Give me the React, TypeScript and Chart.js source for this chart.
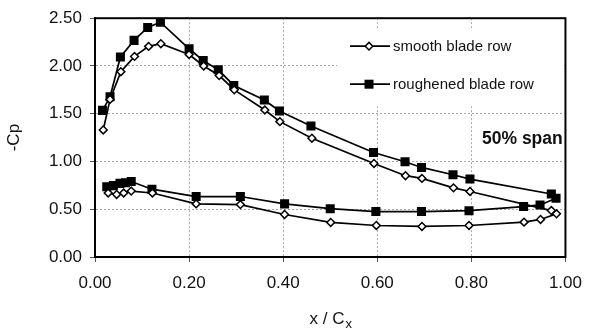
import React, { useEffect, useRef } from 'react';
import { Chart, registerables } from 'chart.js';

Chart.register(...registerables);

// ---- data ----
const xTicks = [0, 0.2, 0.4, 0.6, 0.8, 1.0];
const yTicks = [0, 0.5, 1.0, 1.5, 2.0, 2.5];

// smooth blade row: suction side LE -> TE, then pressure side TE -> LE
const smoothX = [0.0175, 0.032, 0.055, 0.084, 0.114, 0.14, 0.2, 0.231, 0.264, 0.296, 0.361, 0.393, 0.461, 0.593, 0.66, 0.695, 0.762, 0.797, 0.97, 0.981,
  0.947, 0.912, 0.795, 0.695, 0.598, 0.501, 0.403, 0.309, 0.215, 0.122, 0.077, 0.061, 0.046, 0.028];
const smoothY = [1.33, 1.65, 1.94, 2.10, 2.205, 2.233, 2.12, 2.0, 1.9, 1.75, 1.539, 1.417, 1.244, 0.979, 0.851, 0.823, 0.724, 0.686, 0.486, 0.452,
  0.393, 0.365, 0.33, 0.32, 0.33, 0.362, 0.445, 0.549, 0.556, 0.67, 0.69, 0.67, 0.655, 0.67];

// roughened blade row
const roughX = [0.016, 0.032, 0.054, 0.083, 0.112, 0.139, 0.2, 0.23, 0.262, 0.295, 0.36, 0.392, 0.459, 0.592, 0.659, 0.694, 0.761, 0.797, 0.97, 0.98,
  0.946, 0.911, 0.795, 0.694, 0.597, 0.5, 0.403, 0.309, 0.215, 0.121, 0.077, 0.065, 0.053, 0.039, 0.025];
const roughY = [1.535, 1.677, 2.094, 2.268, 2.403, 2.458, 2.18, 2.056, 1.96, 1.796, 1.643, 1.528, 1.372, 1.094, 0.997, 0.9375, 0.861, 0.816, 0.66, 0.615,
  0.545, 0.528, 0.485, 0.476, 0.476, 0.506, 0.556, 0.633, 0.633, 0.71, 0.79, 0.778, 0.771, 0.747, 0.736];

const seriesLabels = ['smooth blade row', 'roughened blade row'];
const annotation = '50% span';
const xTitle = 'x / C';
const xTitleSub = 'x';
const yTitle = '-Cp';

const FONT = "'Liberation Sans', Arial, sans-serif";
const TEXT = '#111';

const overlay = {
  id: 'overlay',
  afterDatasetsDraw(chart: any) {
    const { ctx, chartArea: a } = chart;
    ctx.save();
    // legend box (covers grid)
    const lx = a.left + 242;
    const ly = a.top + 10;
    ctx.fillStyle = '#fff';
    ctx.fillRect(lx, ly, 225, 78);
    const items = [
      { y: a.top + 28, style: 'diamond' },
      { y: a.top + 66, style: 'square' },
    ];
    items.forEach((it, i) => {
      const x0 = a.left + 255, x1 = a.left + 295, xm = a.left + 274;
      ctx.strokeStyle = '#000';
      ctx.lineWidth = 1.8;
      ctx.setLineDash([]);
      ctx.beginPath();
      ctx.moveTo(x0, it.y);
      ctx.lineTo(x1, it.y);
      ctx.stroke();
      if (it.style === 'diamond') {
        const r = 3.8;
        ctx.beginPath();
        ctx.moveTo(xm - r, it.y);
        ctx.lineTo(xm, it.y - r);
        ctx.lineTo(xm + r, it.y);
        ctx.lineTo(xm, it.y + r);
        ctx.closePath();
        ctx.fillStyle = '#fff';
        ctx.fill();
        ctx.lineWidth = 1.5;
        ctx.stroke();
      } else {
        const s = 4.5;
        ctx.fillStyle = '#000';
        ctx.fillRect(xm - s, it.y - s, 2 * s, 2 * s);
      }
      ctx.fillStyle = TEXT;
      ctx.font = `15px ${FONT}`;
      ctx.textAlign = 'left';
      ctx.textBaseline = 'middle';
      ctx.fillText(seriesLabels[i], a.left + 298, it.y + 1);
    });
    // annotation
    ctx.font = `bold 17.5px ${FONT}`;
    ctx.fillStyle = TEXT;
    ctx.textAlign = 'left';
    ctx.textBaseline = 'middle';
    ctx.fillText(annotation, a.left + 387, a.top + 121);
    // frame
    ctx.strokeStyle = '#000';
    ctx.lineWidth = 2;
    ctx.strokeRect(a.left, a.top, a.right - a.left, a.bottom - a.top);
    ctx.restore();
  },
  afterDraw(chart: any) {
    const { ctx, chartArea: a } = chart;
    ctx.save();
    const cx = (a.left + a.right) / 2;
    ctx.font = `17px ${FONT}`;
    const w1 = ctx.measureText(xTitle).width;
    ctx.font = `13px ${FONT}`;
    const w2 = ctx.measureText(xTitleSub).width;
    const start = cx - (w1 + w2) / 2;
    const base = a.bottom + 67;
    ctx.fillStyle = TEXT;
    ctx.textAlign = 'left';
    ctx.textBaseline = 'alphabetic';
    ctx.font = `17px ${FONT}`;
    ctx.fillText(xTitle, start, base);
    ctx.font = `13px ${FONT}`;
    ctx.fillText(xTitleSub, start + w1 + 1, base + 4);
    ctx.restore();
  },
};

export default function App() {
  const ref = useRef<HTMLCanvasElement>(null);
  useEffect(() => {
    const chart = new Chart(ref.current as HTMLCanvasElement, {
      type: 'scatter',
      data: {
        datasets: [
          {
            label: seriesLabels[0],
            data: smoothX.map((x, i) => ({ x, y: smoothY[i] })),
            showLine: true,
            borderColor: '#000',
            borderWidth: 1.7,
            tension: 0,
            pointStyle: 'rectRot',
            pointRadius: 3.9,
            pointBackgroundColor: '#fff',
            pointBorderColor: '#000',
            pointBorderWidth: 1.5,
            order: 1,
          },
          {
            label: seriesLabels[1],
            data: roughX.map((x, i) => ({ x, y: roughY[i] })),
            showLine: true,
            borderColor: '#000',
            borderWidth: 1.7,
            tension: 0,
            pointStyle: 'rect',
            pointRadius: 6.4,
            pointBackgroundColor: '#000',
            pointBorderColor: '#000',
            pointBorderWidth: 0,
            order: 2,
          },
        ],
      },
      options: {
        animation: false,
        responsive: false,
        devicePixelRatio: 1,
        layout: { padding: { left: 0, top: 17, right: 24, bottom: 0 } },
        plugins: { legend: { display: false }, tooltip: { enabled: false } },
        scales: {
          x: {
            type: 'linear',
            min: 0,
            max: 1,
            afterBuildTicks: (s: any) => {
              s.ticks = xTicks.map((v) => ({ value: v }));
            },
            afterFit: (s: any) => {
              s.height = 74;
            },
            ticks: {
              callback: (v: any) => Number(v).toFixed(2),
              font: { family: FONT, size: 17 },
              color: TEXT,
              padding: 11,
              maxRotation: 0,
              autoSkip: false,
            },
            grid: { color: '#a8a8a8', lineWidth: 1, tickLength: 5, tickColor: '#555', tickBorderDash: [] },
            border: { display: true, color: '#000', width: 2, dash: [2, 2] },
          },
          y: {
            type: 'linear',
            min: 0,
            max: 2.5,
            afterBuildTicks: (s: any) => {
              s.ticks = yTicks.map((v) => ({ value: v }));
            },
            afterFit: (s: any) => {
              s.width = 95;
            },
            ticks: {
              callback: (v: any) => Number(v).toFixed(2),
              font: { family: FONT, size: 17 },
              color: TEXT,
              padding: 8,
              autoSkip: false,
            },
            grid: { color: '#a8a8a8', lineWidth: 1, tickLength: 5, tickColor: '#555', tickBorderDash: [] },
            border: { display: true, color: '#000', width: 2, dash: [2, 2] },
            title: {
              display: true,
              text: yTitle,
              font: { family: FONT, size: 17 },
              color: TEXT,
              padding: { top: 4, bottom: 0 },
            },
          },
        },
      },
      plugins: [overlay],
    } as any);
    return () => chart.destroy();
  }, []);
  return (
    <div style={{ position: 'fixed', left: 0, top: 0, width: 593, height: 331, background: '#fff' }}>
      <canvas ref={ref} width={593} height={331} style={{ display: 'block' }} />
    </div>
  );
}
